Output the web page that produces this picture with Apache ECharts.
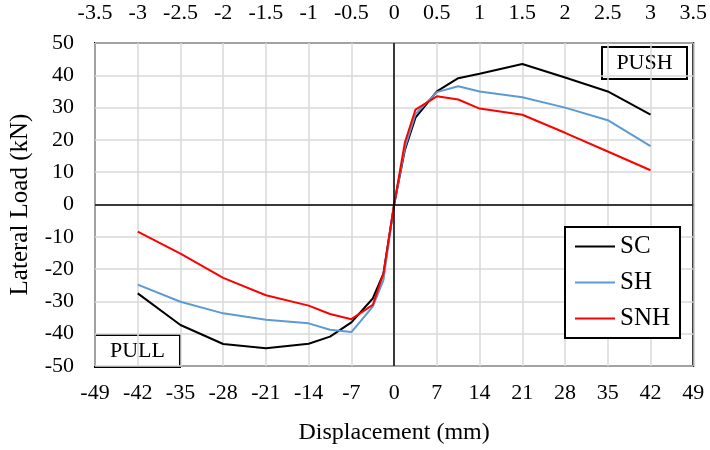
<!DOCTYPE html>
<html>
<head>
<meta charset="utf-8">
<script src="https://cdn.jsdelivr.net/npm/echarts@6/dist/echarts.min.js"></script>
<style>html,body{margin:0;padding:0;background:#fff;}#c{width:710px;height:450px;}</style>
</head>
<body>
<div id="c"></div>
<script>
const displacement = [-42, -35, -28, -21, -14, -10.5, -7, -3.5, -1.75, 0, 1.75, 3.5, 7, 10.5, 14, 21, 28, 35, 42];
const SC  = [-27.5, -37.3, -43.2, -44.5, -43.1, -40.9, -36.5, -29.1, -21.4, 0, 16.8, 26.9, 35.0, 39.1, 40.5, 43.5, 39.3, 35.0, 27.8];
const SH  = [-24.8, -30.1, -33.7, -35.7, -36.8, -38.8, -39.5, -31.6, -23.4, 0, 17.5, 28.0, 34.8, 36.6, 35.0, 33.2, 30.0, 26.1, 18.1];
const SNH = [-8.4, -15.2, -22.7, -28.1, -31.3, -33.9, -35.5, -31.1, -21.4, 0, 19.1, 29.4, 33.5, 32.5, 29.7, 27.8, 22.2, 16.4, 10.6];
const seriesNames = ['SC', 'SH', 'SNH'];
const seriesColors = ['#000000', '#5B9BD5', '#FF0000'];
const annotations = ['PUSH', 'PULL'];

const FONT = '"Liberation Serif", "Times New Roman", serif';
const zip = ys => displacement.map((x, i) => [x, ys[i]]);
const values = [SC, SH, SNH];

const chart = echarts.init(document.getElementById('c'), null, {renderer: 'canvas'});
const series = values.map((ys, k) => ({
  name: seriesNames[k],
  type: 'line',
  xAxisIndex: 0,
  yAxisIndex: 0,
  data: zip(ys),
  showSymbol: false,
  symbol: 'none',
  lineStyle: {color: seriesColors[k], width: 2},
  itemStyle: {color: seriesColors[k]},
  z: 3,
  animation: false
}));
series.push({
  type: 'line',
  data: [],
  z: 2,
  silent: true,
  markLine: {
    silent: true,
    symbol: 'none',
    label: {show: false},
    lineStyle: {color: '#000', width: 1.5, type: 'solid'},
    data: [{xAxis: 0}, {yAxis: 0}],
    animation: false
  }
});

chart.setOption({
  animation: false,
  backgroundColor: '#fff',
  textStyle: {fontFamily: FONT, color: '#000'},
  grid: {left: 88, right: 15, top: 43, bottom: 82, show: true, borderColor: '#000', borderWidth: 2, backgroundColor: 'transparent'},
  legend: {
    orient: 'vertical',
    left: 565, top: 227,
    padding: [7, 10, 7, 10],
    itemGap: 11,
    itemWidth: 40, itemHeight: 2,
    icon: 'rect',
    borderColor: '#000', borderWidth: 2,
    backgroundColor: '#fff',
    textStyle: {fontFamily: FONT, fontSize: 25, color: '#000'},
    data: seriesNames
  },
  xAxis: [{
    type: 'value', position: 'bottom', min: -49, max: 49, interval: 7,
    name: 'Displacement (mm)', nameLocation: 'middle', nameGap: 55,
    nameTextStyle: {fontFamily: FONT, fontSize: 24, color: '#000'},
    axisLine: {show: false}, axisTick: {show: false},
    axisLabel: {fontFamily: FONT, fontSize: 22, color: '#000', margin: 16},
    splitLine: {show: true, lineStyle: {color: '#d9d9d9', width: 1.5}}
  }, {
    type: 'value', position: 'top', min: -3.5, max: 3.5, interval: 0.5,
    axisLine: {show: false}, axisTick: {show: false},
    axisLabel: {fontFamily: FONT, fontSize: 22, color: '#000', margin: 19},
    splitLine: {show: false}
  }],
  yAxis: [{
    type: 'value', min: -50, max: 50, interval: 10,
    name: 'Lateral Load (kN)', nameLocation: 'middle', nameGap: 62, nameRotate: 90,
    nameTextStyle: {fontFamily: FONT, fontSize: 25, color: '#000'},
    axisLine: {show: false}, axisTick: {show: false},
    axisLabel: {fontFamily: FONT, fontSize: 22, color: '#000', margin: 21},
    splitLine: {show: true, lineStyle: {color: '#d9d9d9', width: 1.5}}
  }],
  graphic: [{
    type: 'group', left: 601, top: 46, z: 10,
    children: [
      {type: 'rect', shape: {x: 0, y: 0, width: 85, height: 32}, style: {fill: '#fff', stroke: '#000', lineWidth: 2}},
      {type: 'text', x: 42.5, y: 16, style: {text: annotations[0], fontFamily: FONT, fontSize: 22, fill: '#000', align: 'center', verticalAlign: 'middle'}}
    ]
  }, {
    type: 'group', left: 94, top: 334, z: 10,
    children: [
      {type: 'rect', shape: {x: 0, y: 0, width: 85, height: 32}, style: {fill: '#fff', stroke: '#000', lineWidth: 2}},
      {type: 'text', x: 42.5, y: 16, style: {text: annotations[1], fontFamily: FONT, fontSize: 22, fill: '#000', align: 'center', verticalAlign: 'middle'}}
    ]
  }],
  series: series
});
</script>
</body>
</html>
